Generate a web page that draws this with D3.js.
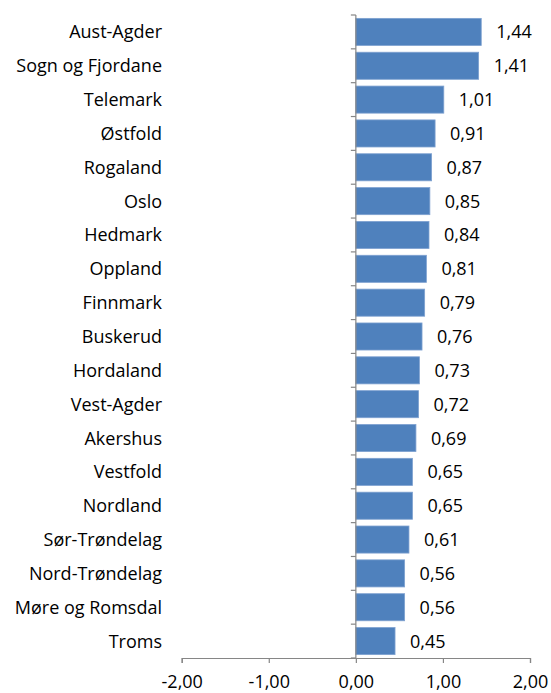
<!DOCTYPE html>
<html><head><meta charset="utf-8">
<script src="https://cdn.jsdelivr.net/npm/d3@7"></script>
<style>body{margin:0;background:#fff}svg text{font-family:"Open Sans",sans-serif;fill:#000}</style>
</head><body>
<svg id="c" width="551" height="693"></svg>
<script>
const categories = ["Aust-Agder","Sogn og Fjordane","Telemark","Østfold","Rogaland","Oslo","Hedmark","Oppland","Finnmark","Buskerud","Hordaland","Vest-Agder","Akershus","Vestfold","Nordland","Sør-Trøndelag","Nord-Trøndelag","Møre og Romsdal","Troms"];
const values = [1.44,1.41,1.01,0.91,0.87,0.85,0.84,0.81,0.79,0.76,0.73,0.72,0.69,0.65,0.65,0.61,0.56,0.56,0.45];
const xTicks = [-2,-1,0,1,2];

const svg = d3.select("#c");
const fmt = v => v.toFixed(2).replace(".", ",");
const x = d3.scaleLinear().domain([-2,2]).range([181.7,530]);
const y = d3.scaleBand().domain(categories).range([15,658]).paddingInner(0.2).paddingOuter(0.1);
const axisColor = "#868686";
const FS = 18;

// bars
svg.selectAll("rect.bar").data(values).join("rect")
  .attr("x", d => x(Math.min(0,d)))
  .attr("y", (d,i) => y(categories[i]))
  .attr("width", d => Math.abs(x(d)-x(0)))
  .attr("height", y.bandwidth())
  .attr("fill", "#4F81BD")
  .attr("stroke", "#7EA1D0").attr("stroke-width", 0.8);

// value labels
svg.selectAll("text.val").data(values).join("text")
  .attr("x", d => x(d) + 15)
  .attr("y", (d,i) => y(categories[i]) + y.bandwidth()/2)
  .attr("dy", "0.36em")
  .attr("font-size", FS)
  .text(fmt);

// x axis
const xa = svg.append("g").attr("transform", "translate(0,658)")
  .call(d3.axisBottom(x).tickValues(xTicks).tickSize(5).tickPadding(12).tickFormat(fmt));
xa.select(".domain").attr("stroke", axisColor).attr("stroke-width", 1.2);
xa.selectAll(".tick line").attr("stroke", axisColor).attr("stroke-width", 1.2);
xa.selectAll("text").attr("font-size", FS).attr("font-family", "'Open Sans',sans-serif").attr("fill", "#000");

// y axis at zero
const yLine = svg.append("g");
yLine.append("line").attr("x1", x(0)).attr("x2", x(0)).attr("y1", 15).attr("y2", 658)
  .attr("stroke", axisColor).attr("stroke-width", 1.2);
const tickYs = d3.range(categories.length + 1).map(i => 15 + i * (643 / categories.length));
yLine.selectAll("line.t").data(tickYs).join("line")
  .attr("x1", x(0) - 5).attr("x2", x(0)).attr("y1", d => d).attr("y2", d => d)
  .attr("stroke", axisColor).attr("stroke-width", 1.2);

// category labels
svg.selectAll("text.cat").data(categories).join("text")
  .attr("x", 162).attr("text-anchor", "end")
  .attr("y", d => y(d) + y.bandwidth()/2)
  .attr("dy", "0.36em")
  .attr("font-size", FS)
  .text(d => d);
</script>
</body></html>
